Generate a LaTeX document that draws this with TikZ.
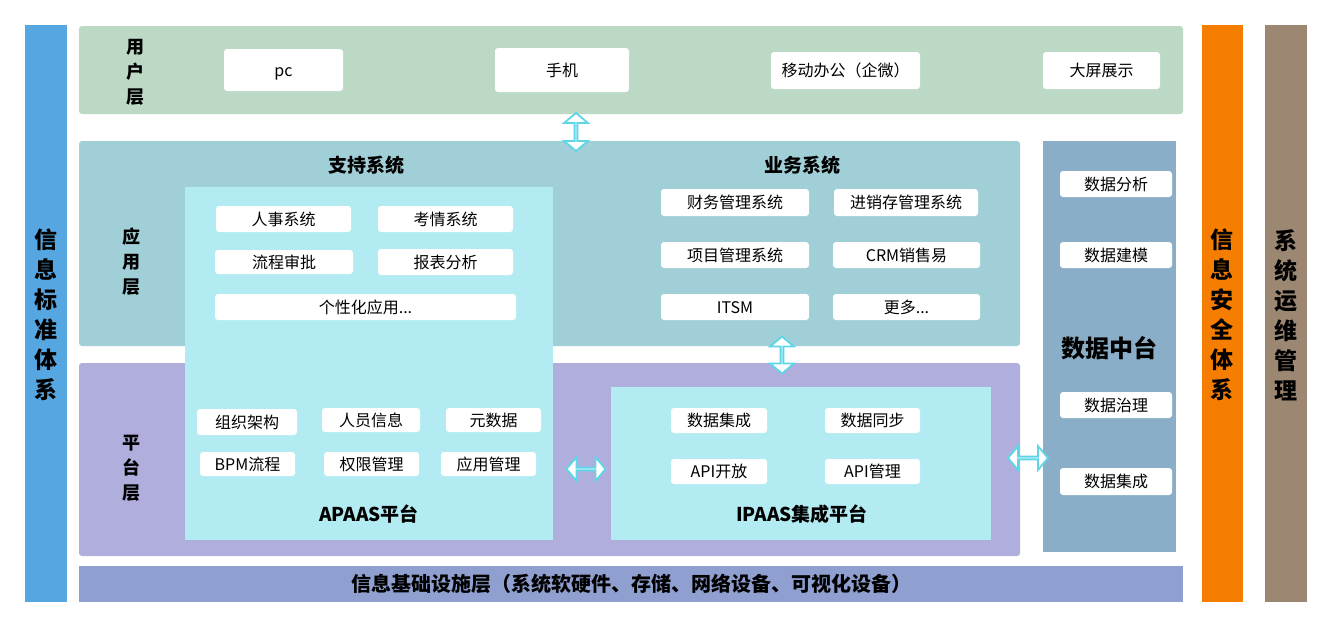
\documentclass[tikz,border=0pt]{standalone}
\usepackage{fontspec}
\setmainfont{Noto Sans CJK SC}
\usetikzlibrary{shapes.arrows}

\definecolor{stdblue}{HTML}{55A6E1}
\definecolor{secorange}{HTML}{F57D00}
\definecolor{opsbrown}{HTML}{9C8772}
\definecolor{userlayer}{HTML}{BBD9C5}
\definecolor{applayer}{HTML}{A1CFD7}
\definecolor{platlayer}{HTML}{B0AEDC}
\definecolor{innerbox}{HTML}{B2EBF2}
\definecolor{datamid}{HTML}{8AAEC7}
\definecolor{infra}{HTML}{8E9FD0}
\definecolor{arrowc}{HTML}{5DD6E8}

% block node from corner (x1,y1) to corner (x2,y2), in pixels
\newcommand\blk[7]{%
  \node[#1, minimum width={(#5-#3)*1pt}, minimum height={(#6-#4)*1pt}]
    (#2) at ({(#3+#5)/2},{(#4+#6)/2}) {#7};}

\tikzset{
  base/.style={inner sep=0pt, outer sep=0pt, rounded corners=3pt},
  layer/.style={base, fill=#1},
  % fixed text box so CJK and Latin labels sit at the same height
  cjkc/.style={text height={0.88*#1*1pt}, text depth={0.12*#1*1pt}},
  wbox/.style={base, fill=white, cjkc=16, font=\fontsize{16}{18}\selectfont},
  vlabel/.style={align=center, inner sep=0pt, font=\bfseries\fontsize{18}{25}\selectfont},
  sidelabel/.style={align=center, inner sep=0pt, font=\bfseries\fontsize{23}{30}\selectfont},
  title/.style={inner sep=0pt, cjkc=19, font=\bfseries\fontsize{19}{21}\selectfont},
  dblarrow/.style={double arrow, draw=arrowc, fill=white, line width=1.8pt,
    inner sep=0pt, minimum width=24pt, double arrow head extend=7pt,
    double arrow tip angle=100, minimum height=#1},
}

\begin{document}
\begin{tikzpicture}[x=1pt, y=-1pt]
\useasboundingbox (0,0) rectangle (1332,627);
\fill[white] (0,0) rectangle (1332,627);

% side bars
\blk{base, rounded corners=0pt, fill=stdblue}{stdbar}{25}{25}{67}{602}{}
\blk{base, rounded corners=0pt, fill=secorange}{secbar}{1202}{25}{1243}{602}{}
\blk{base, rounded corners=0pt, fill=opsbrown}{opsbar}{1265}{25}{1307}{602}{}
\node[sidelabel] (stdtxt) at (46,315) {信\\息\\标\\准\\体\\系};
\node[sidelabel] (sectxt) at (1222,315) {信\\息\\安\\全\\体\\系};
\node[sidelabel] (opstxt) at (1286,315) {系\\统\\运\\维\\管\\理};

% user layer
\blk{layer=userlayer}{user}{79}{26}{1183}{114}{}
\node[vlabel] (usertxt) at (135,72) {用\\户\\层};
\blk{wbox}{pc}{224}{49}{343}{91}{pc}
\blk{wbox}{phone}{495}{48}{629}{92}{手机}
\blk{wbox}{mobile}{771}{52}{920}{89}{移动办公（企微）}
\blk{wbox}{screen}{1043}{52}{1160}{89}{大屏展示}

% application layer
\blk{layer=applayer}{app}{79}{141}{1020}{346}{}
\node[vlabel] (apptxt) at (131,262) {应\\用\\层};
\node[title] (supporttitle) at (366,165) {支持系统};
\node[title] (bizitle) at (802,165) {业务系统};

% platform layer
\blk{layer=platlayer}{plat}{79}{363}{1020}{556}{}
\node[vlabel] (plattxt) at (131,468) {平\\台\\层};

% support / APAAS column spanning both layers
\blk{base, rounded corners=0pt, fill=innerbox}{apaas}{185}{187}{553}{540}{}
\blk{wbox}{hr}{216}{206}{351}{232}{人事系统}
\blk{wbox}{att}{378}{206}{513}{232}{考情系统}
\blk{wbox}{flow}{215}{250}{353}{274}{流程审批}
\blk{wbox}{report}{378}{249}{513}{275}{报表分析}
\blk{wbox}{custom}{215}{294}{516}{320}{个性化应用...}

\blk{wbox}{org}{197}{409}{297}{435}{组织架构}
\blk{wbox}{staff}{322}{408}{420}{432}{人员信息}
\blk{wbox}{meta}{446}{408}{541}{432}{元数据}
\blk{wbox}{bpm}{200}{452}{295}{476}{BPM流程}
\blk{wbox}{perm}{324}{452}{419}{476}{权限管理}
\blk{wbox}{appmgmt}{441}{452}{536}{476}{应用管理}
\node[title] (apaastitle) at (369,514) {APAAS平台};

% business systems
\blk{wbox}{fin}{661}{189}{809}{216}{财务管理系统}
\blk{wbox}{psi}{834}{189}{978}{216}{进销存管理系统}
\blk{wbox}{proj}{661}{242}{809}{268}{项目管理系统}
\blk{wbox}{crm}{833}{242}{980}{268}{CRM销售易}
\blk{wbox}{itsm}{661}{294}{809}{320}{ITSM}
\blk{wbox}{more}{833}{294}{980}{320}{更多...}

% IPAAS
\blk{base, rounded corners=0pt, fill=innerbox}{ipaas}{611}{387}{991}{540}{}
\blk{wbox}{integ}{671}{408}{767}{433}{数据集成}
\blk{wbox}{sync}{825}{408}{920}{433}{数据同步}
\blk{wbox}{apiopen}{671}{459}{767}{484}{API开放}
\blk{wbox}{apimgmt}{825}{459}{920}{484}{API管理}
\node[title] (ipaastitle) at (802,514) {IPAAS集成平台};

% data middle platform
\blk{base, rounded corners=0pt, fill=datamid}{data}{1043}{141}{1176}{552}{}
\node[inner sep=0pt, cjkc=24, font=\bfseries\fontsize{24}{26}\selectfont] (datatitle) at (1109,348) {数据中台};
\blk{wbox}{danal}{1060}{171}{1172}{197}{数据分析}
\blk{wbox}{dmodel}{1060}{242}{1172}{268}{数据建模}
\blk{wbox}{dgov}{1060}{392}{1172}{418}{数据治理}
\blk{wbox}{dinteg}{1060}{468}{1172}{495}{数据集成}

% infrastructure layer
\blk{base, rounded corners=0pt, fill=infra}{infra}{79}{566}{1183}{602}{}
\node[inner sep=0pt, cjkc=20, font=\bfseries\fontsize{20}{22}\selectfont] (infratxt) at (631,584)
  {信息基础设施层（系统软硬件、存储、网络设备、可视化设备）};

% two-way block arrows between parts
\node[dblarrow=38pt, rotate=90] (ua) at (576,132) {};
\node[dblarrow=37pt, rotate=90] (bp) at (782,355) {};
\node[dblarrow=39pt] (ai) at (586,469) {};
\node[dblarrow=40pt] (pd) at (1028,458) {};
\end{tikzpicture}
\end{document}
